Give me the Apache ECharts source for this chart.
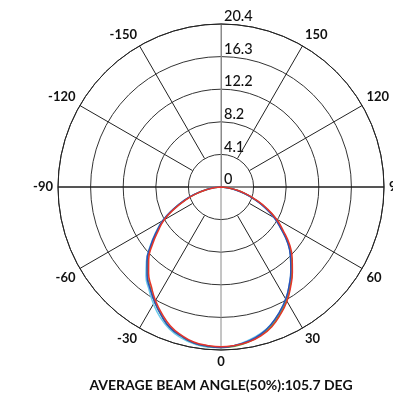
<!DOCTYPE html>
<html>
<head>
<meta charset="utf-8">
<script src="https://cdn.jsdelivr.net/npm/echarts@6/dist/echarts.min.js"></script>
<style>
  html, body { margin: 0; padding: 0; background: #fff; }
  #chart { width: 393px; height: 393px; }
</style>
</head>
<body>
<div id="chart"></div>
<script>
// beam angles in degrees, 0 = straight down
const angles = [-90, -85, -80, -75, -70, -65, -60, -55, -50, -45, -40, -35, -30, -25, -20, -15, -10, -5,
                0, 5, 10, 15, 20, 25, 30, 35, 40, 45, 50, 55, 60, 65, 70, 75, 80, 85, 90];

const cyanValues  = [0, 0.8, 1.9, 3.3, 4.9, 6.6, 8.4, 10.0, 11.6, 13.2, 14.6, 15.7, 16.9, 18.0, 18.9, 19.5, 19.9, 20.1,
                     20.1, 19.9, 19.5, 19.0, 18.3, 17.3, 16.2, 14.9, 13.6, 12.3, 10.9, 9.2, 7.7, 6.1, 4.4, 3.0, 1.6, 0.6, 0];
const greenValues = [0, 0.8, 1.8, 3.2, 4.8, 6.5, 8.3, 9.8, 11.4, 13.0, 14.3, 15.4, 16.6, 17.7, 18.7, 19.3, 19.8, 20.0,
                     20.1, 20.0, 19.7, 19.2, 18.5, 17.5, 16.4, 15.1, 13.8, 12.4, 11.0, 9.3, 7.9, 6.2, 4.5, 3.0, 1.7, 0.7, 0];
const blueValues  = [0, 0.8, 1.8, 3.3, 4.9, 6.6, 8.4, 9.9, 11.5, 13.1, 14.4, 15.5, 16.6, 17.7, 18.7, 19.3, 19.8, 20.0,
                     20.1, 19.9, 19.6, 19.1, 18.3, 17.3, 16.2, 14.9, 13.6, 12.3, 10.9, 9.2, 7.7, 6.0, 4.4, 2.9, 1.6, 0.6, 0];
const redValues   = [0, 0.7, 1.7, 3.1, 4.7, 6.4, 8.2, 9.6, 11.2, 12.8, 14.1, 15.2, 16.4, 17.5, 18.5, 19.2, 19.7, 19.9,
                     20.0, 19.9, 19.7, 19.3, 18.6, 17.6, 16.5, 15.2, 13.9, 12.6, 11.2, 9.5, 8.0, 6.3, 4.6, 3.1, 1.7, 0.7, 0];

const radiusLabels = ["0", "4.1", "8.2", "12.2", "16.3", "20.4"];
const titleText = "AVERAGE BEAM ANGLE(50%):105.7 DEG";

const font = "Lato";
const center = [221, 187];

function toPolar(values) {
  return values.map((v, i) => [v, angles[i]]);
}

function line(name, values, color) {
  return {
    name: name,
    type: "line",
    coordinateSystem: "polar",
    polarIndex: 0,
    data: toPolar(values),
    smooth: 0.5,
    symbol: "none",
    lineStyle: { width: 1.5, color: color },
    itemStyle: { color: color },
    z: 5,
  };
}

const chart = echarts.init(document.getElementById("chart"));
chart.setOption({
  animation: false,
  title: {
    text: titleText,
    left: 216,
    textAlign: "center",
    top: 373,
    textStyle: { fontFamily: font, fontSize: 14, fontWeight: "bold", color: "#111" },
  },
  polar: [
    { center: center, radius: [0, 163] },
    { center: center, radius: [33, 163] },
  ],
  angleAxis: [
    {
      polarIndex: 0,
      type: "value",
      min: -180,
      max: 180,
      interval: 30,
      startAngle: 90,
      clockwise: false,
      axisLine: { show: true, lineStyle: { color: "#222", width: 1 } },
      axisTick: { show: false },
      axisLabel: {
        margin: 5,
        fontFamily: font,
        fontSize: 13,
        fontWeight: "bold",
        color: "#111",
        formatter: (v) => (v === -180 || v === 180 ? "" : String(v)),
      },
      splitLine: {
        show: true,
        lineStyle: {
          width: 1,
          color: ["#8a8a8a", "transparent", "transparent", "#111",
                  "transparent", "transparent", "#8a8a8a", "transparent",
                  "transparent", "#111", "transparent", "transparent"],
        },
      },
    },
    {
      polarIndex: 1,
      type: "value",
      min: -180,
      max: 180,
      interval: 30,
      startAngle: 90,
      clockwise: false,
      axisLine: { show: false },
      axisTick: { show: false },
      axisLabel: { show: false },
      splitLine: {
        show: true,
        lineStyle: {
          width: 1,
          color: ["transparent", "#222", "#222", "#222", "#222", "#222",
                  "transparent", "#222", "#222", "#222", "#222", "#222"],
        },
      },
    },
  ],
  radiusAxis: [
    {
      polarIndex: 0,
      type: "value",
      min: 0,
      max: 20.4,
      interval: 4.08,
      axisLine: { show: true, lineStyle: { color: "#8a8a8a", width: 1 } },
      axisTick: { show: false },
      axisLabel: {
        fontFamily: font,
        fontSize: 14.5,
        fontWeight: 500,
        color: "#111",
        align: "left",
        verticalAlign: "bottom",
        padding: [0, 0, 0, 11],
        formatter: (v, i) => radiusLabels[i],
      },
      splitLine: { show: true, lineStyle: { color: "#333", width: 1 } },
    },
    {
      polarIndex: 1,
      type: "value",
      min: 0,
      max: 1,
      show: false,
    },
  ],
  series: [
    line("cyan", cyanValues, "#6cc9ec"),
    line("green", greenValues, "#5fae3c"),
    line("blue", blueValues, "#2d4fb8"),
    line("red", redValues, "#e5352a"),
  ],
});
</script>
</body>
</html>
